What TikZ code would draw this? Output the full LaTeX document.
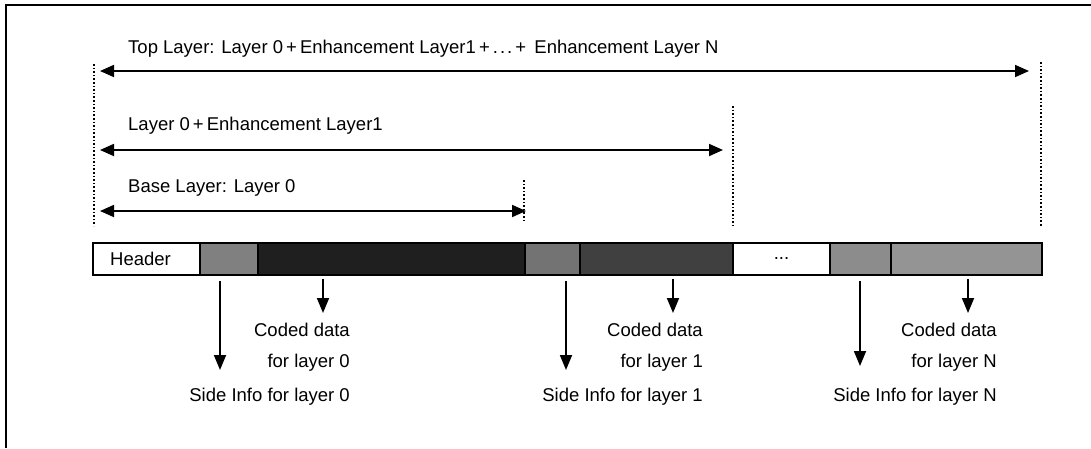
\documentclass[tikz,border=0pt]{standalone}
\usepackage{fontspec}
\setmainfont{Liberation Sans}
\usetikzlibrary{arrows.meta}
\begin{document}
\begin{tikzpicture}[x=1pt,y=-1pt,
  lbl/.style={inner sep=0pt,font=\fontsize{18.5}{21}\selectfont},
  seg/.style={draw=black,line width=1.6pt,minimum height=32pt,inner sep=0pt,outer sep=0pt,anchor=north west},
  harr/.style={line width=1.8pt,{Triangle[length=14pt,width=12pt]}-{Triangle[length=14pt,width=12pt]}},
  varr/.style={line width=1.8pt,-{Triangle[length=15pt,width=12pt]}},
  guide/.style={line width=1.6pt,dotted},
  frameln/.style={line width=1.8pt}]
\useasboundingbox (0,0) rectangle (1091,448);
% frame
\coordinate (f0) at (6,448);
\coordinate (f1) at (6,5);
\coordinate (f2) at (1091,5);
\draw[frameln] (f0) -- (f1) -- (f2);
% dotted guides
\coordinate (g0a) at (94,64);   \coordinate (g0b) at (94,226);
\coordinate (g1a) at (733,106); \coordinate (g1b) at (733,226);
\coordinate (g2a) at (524,180); \coordinate (g2b) at (524,222);
\coordinate (g3a) at (1041,62); \coordinate (g3b) at (1041,226);
\draw[guide] (g0a) -- (g0b);
\draw[guide] (g1a) -- (g1b);
\draw[guide] (g2a) -- (g2b);
\draw[guide] (g3a) -- (g3b);
% labels and span arrows
\node[lbl,anchor=base west] (ttop) at (128,53) {Top Layer: Layer 0\,+\,Enhancement Layer1\,+\,.\kern2pt.\kern2pt.\,+\ \,Enhancement Layer N};
\node[lbl,anchor=base west] (tmid) at (128,130) {Layer 0\,+\,Enhancement Layer1};
\node[lbl,anchor=base west] (tbase) at (128,192) {Base Layer: Layer 0};
\coordinate (a0l) at (100,71);  \coordinate (a0r) at (1029,71);
\coordinate (a1l) at (100,150); \coordinate (a1r) at (723,150);
\coordinate (a2l) at (100,211); \coordinate (a2r) at (526,211);
\draw[harr] (a0l) -- (a0r);
\draw[harr] (a1l) -- (a1r);
\draw[harr] (a2l) -- (a2r);
% bitstream bar
\node[seg,fill=white,minimum width=107pt] (hdr) at (93,243) {};
\node[lbl] (hdrt) at ([xshift=-6pt]hdr.center) {Header};
\node[seg,fill=black!50,minimum width=58pt] (s0) at (hdr.north east) {};
\node[seg,fill=black!88,minimum width=267pt] (c0) at (s0.north east) {};
\node[seg,fill=black!55,minimum width=55pt] (s1) at (c0.north east) {};
\node[seg,fill=black!75,minimum width=153pt] (c1) at (s1.north east) {};
\node[seg,fill=white,minimum width=97pt] (dots) at (c1.north east) {};
\node[lbl] (dotst) at (dots.center) {...};
\node[seg,fill=black!45,minimum width=61pt] (sN) at (dots.north east) {};
\node[seg,fill=black!42,minimum width=151pt] (cN) at (sN.north east) {};
% bottom labels
\node[lbl,anchor=base east] (cd0) at (350,336) {Coded data};
\node[lbl,anchor=base east] (fl0) at (350,367) {for layer 0};
\node[lbl,anchor=base east] (si0) at (350,401) {Side Info for layer 0};
\node[lbl,anchor=base east] (cd1) at (703,336) {Coded data};
\node[lbl,anchor=base east] (fl1) at (703,367) {for layer 1};
\node[lbl,anchor=base east] (si1) at (703,401) {Side Info for layer 1};
\node[lbl,anchor=base east] (cdN) at (997,336) {Coded data};
\node[lbl,anchor=base east] (flN) at (997,367) {for layer N};
\node[lbl,anchor=base east] (siN) at (997,401) {Side Info for layer N};
% down arrows
\coordinate (d0a) at (220,281); \coordinate (d0b) at (220,370);
\coordinate (e0a) at (323,279); \coordinate (e0b) at (323,313);
\coordinate (d1a) at (566,281); \coordinate (d1b) at (566,370);
\coordinate (e1a) at (673,279); \coordinate (e1b) at (673,313);
\coordinate (dNa) at (860,281); \coordinate (dNb) at (860,366);
\coordinate (eNa) at (968,279); \coordinate (eNb) at (968,313);
\draw[varr] (d0a) -- (d0b);
\draw[varr] (e0a) -- (e0b);
\draw[varr] (d1a) -- (d1b);
\draw[varr] (e1a) -- (e1b);
\draw[varr] (dNa) -- (dNb);
\draw[varr] (eNa) -- (eNb);
\end{tikzpicture}
\end{document}
